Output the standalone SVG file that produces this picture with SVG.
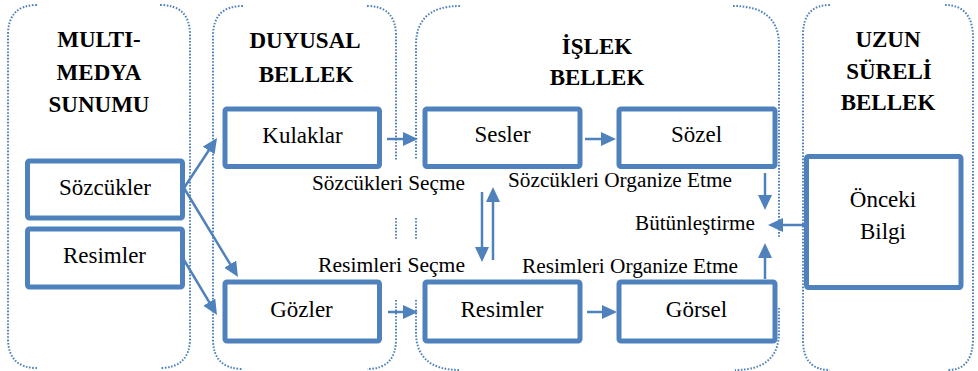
<svg xmlns="http://www.w3.org/2000/svg" width="978" height="371" viewBox="0 0 978 371">
<style>
.panel{fill:none;stroke:#4F81BD;stroke-width:2;stroke-dasharray:1.6 1.6}
.box{fill:#fff;stroke:#4F81BD;stroke-width:5}
text{font-family:'Liberation Serif','Times New Roman',Tinos,'DejaVu Serif','Noto Serif',serif;fill:#000}
.title{font-weight:bold;font-size:23px;text-anchor:middle}
.lbl{font-size:23px;text-anchor:middle}
.sm{font-size:20.5px}
.arr{fill:none;stroke:#4F81BD;stroke-width:2.5;marker-end:url(#ah)}
</style>
<defs>
<marker id="ah" markerUnits="userSpaceOnUse" markerWidth="16" markerHeight="14" refX="11" refY="7" orient="auto">
<path d="M0,0 L15,7 L0,14 Z" fill="#4F81BD"/>
</marker>
</defs>
<rect width="978" height="371" fill="#fff"/>
<g id="panels">
<g id="panel-multimedya">
<path class="panel" d="M37,5 Q8,5 8,35 V338 Q8,368 37,368"/>
<path class="panel" d="M160,5 Q190,5 190,35 V338 Q190,368 160,368"/>
</g>
<g id="panel-duyusal">
<path class="panel" d="M243,6 Q213,6 213,36 V339 Q213,369 243,369"/>
<path class="panel" d="M367,6 Q396,6 396,36 V160 M396,218 V240 M396,300 V339 Q396,369 367,369"/>
</g>
<g id="panel-islek">
<path class="panel" d="M460,6 Q416,6 416,45 V160 M416,218 V240 M416,300 V332 Q416,370 460,370"/>
<path class="panel" d="M733,6 Q779,6 779,45 V238 M779,308 V332 Q779,370 735,370"/>
</g>
<g id="panel-uzun">
<path class="panel" d="M830,5 Q803,5 803,35 V340 Q803,370 830,370"/>
<path class="panel" d="M945,5 Q973,5 973,38 V338 Q973,370 948,370"/>
</g>
</g>
<g id="titles" font-family="Liberation Serif, Times New Roman, serif">
<text class="title" x="99" y="47">MULTI-</text>
<text class="title" x="99" y="80">MEDYA</text>
<text class="title" x="99" y="112">SUNUMU</text>
<text class="title" x="305" y="48">DUYUSAL</text>
<text class="title" x="306" y="82">BELLEK</text>
<text class="title" x="597" y="54">İŞLEK</text>
<text class="title" x="597" y="85">BELLEK</text>
<text class="title" x="888" y="47">UZUN</text>
<text class="title" x="889" y="79">SÜRELİ</text>
<text class="title" x="888" y="110">BELLEK</text>
</g>
<g id="connectors">
<path class="arr" d="M184,188 L214.8,141.3"/>
<path class="arr" d="M184,188 L235.9,273.6"/>
<path class="arr" d="M184,260 L214.9,311.6"/>
<path class="arr" d="M387,139 H414"/>
<path class="arr" d="M585,139 H612"/>
<path class="arr" d="M388,312 H414"/>
<path class="arr" d="M587,312 H613"/>
<path class="arr" d="M482,192 V258"/>
<path class="arr" d="M493,260 V191"/>
<path class="arr" d="M765,173 V206"/>
<path class="arr" d="M765,279 V247"/>
<path class="arr" d="M804,225 H772"/>
</g>
<g id="node-sozcukler">
<rect class="box" x="27.5" y="161" width="155" height="57" rx="2"/>
<text class="lbl" x="105" y="195">Sözcükler</text>
</g>
<g id="node-resimler-sunum">
<rect class="box" x="27.5" y="229" width="155" height="58" rx="2"/>
<text class="lbl" x="104.5" y="263">Resimler</text>
</g>
<g id="node-kulaklar">
<rect class="box" x="225" y="109" width="154.5" height="57.5" rx="2"/>
<text class="lbl" x="302.5" y="143">Kulaklar</text>
</g>
<g id="node-gozler">
<rect class="box" x="225" y="282" width="154.5" height="59" rx="2"/>
<text class="lbl" x="301.5" y="317">Gözler</text>
</g>
<g id="node-sesler">
<rect class="box" x="425" y="109" width="155" height="57.5" rx="2"/>
<text class="lbl" x="502.5" y="142">Sesler</text>
</g>
<g id="node-sozel">
<rect class="box" x="619" y="109" width="156" height="57.5" rx="2"/>
<text class="lbl" x="696.5" y="142">Sözel</text>
</g>
<g id="node-resimler">
<rect class="box" x="425" y="282" width="155" height="59" rx="2"/>
<text class="lbl" x="502" y="317">Resimler</text>
</g>
<g id="node-gorsel">
<rect class="box" x="619" y="282" width="156" height="59" rx="2"/>
<text class="lbl" x="696.5" y="317">Görsel</text>
</g>
<g id="node-onceki-bilgi">
<rect class="box" x="806.5" y="156.5" width="154.5" height="131" rx="2"/>
<text class="lbl" x="883" y="207">Önceki</text>
<text class="lbl" x="883" y="239">Bilgi</text>
</g>
<g id="labels">
<text class="sm" x="312" y="190" textLength="153" lengthAdjust="spacingAndGlyphs">Sözcükleri Seçme</text>
<text class="sm" x="318" y="272" textLength="147" lengthAdjust="spacingAndGlyphs">Resimleri Seçme</text>
<text class="sm" x="508" y="187" textLength="224" lengthAdjust="spacingAndGlyphs">Sözcükleri Organize Etme</text>
<text class="sm" x="522" y="273" textLength="216" lengthAdjust="spacingAndGlyphs">Resimleri Organize Etme</text>
<text class="sm" x="635" y="230" textLength="120" lengthAdjust="spacingAndGlyphs">Bütünleştirme</text>
</g>
</svg>
